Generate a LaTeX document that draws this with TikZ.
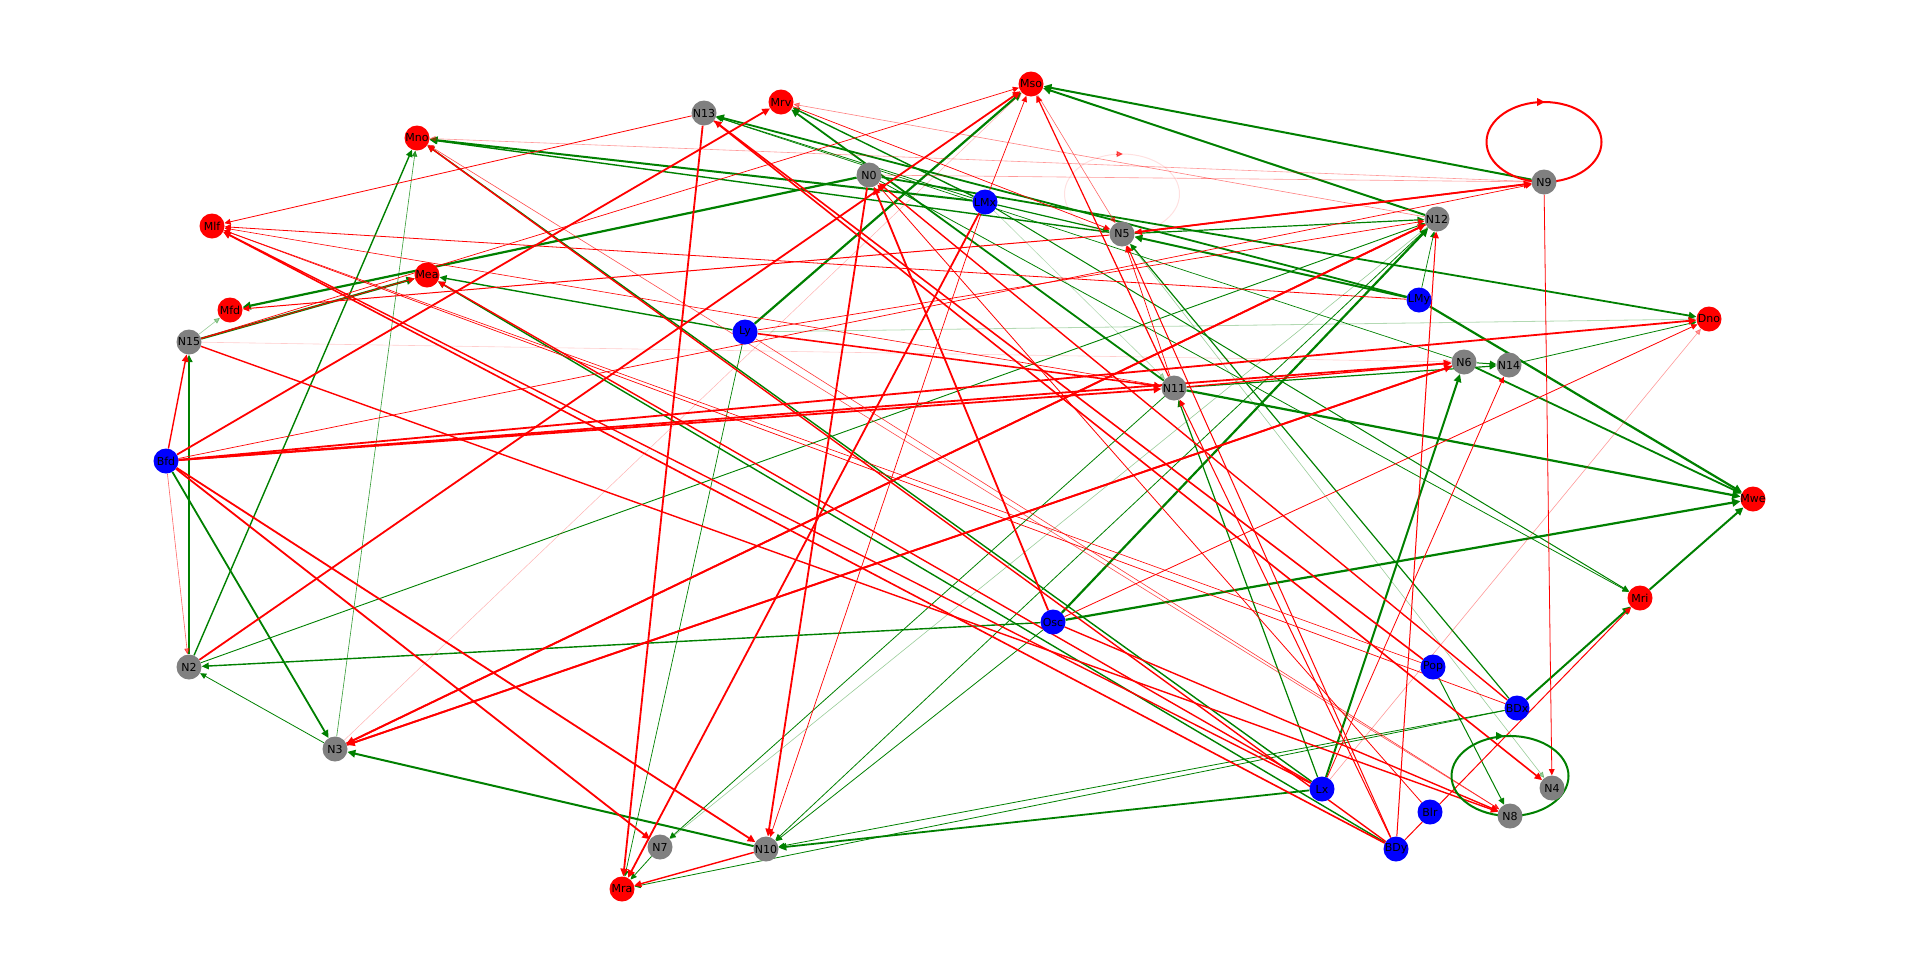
\documentclass[tikz,border=0pt]{standalone}
\usepackage{fontspec}
\setmainfont{DejaVu Sans}
\usetikzlibrary{arrows.meta,backgrounds}
\definecolor{exc}{HTML}{008000}
\definecolor{inh}{HTML}{FF0000}
\definecolor{hidn}{HTML}{808080}
\definecolor{sens}{HTML}{0000FF}
\newcommand{\lbl}[1]{\makebox[0pt]{#1}}

\begin{document}
\begin{tikzpicture}[x=1pt,y=-1pt,font=\fontsize{11}{13}\selectfont,
  unit/.style={circle,inner sep=0pt,minimum size=25pt},
  inp/.style={unit,fill=sens},
  hid/.style={unit,fill=hidn},
  outp/.style={unit,fill=inh},
  link/.style={-{Triangle[length=5pt 1.5,width=4.5pt 1.5]}}]
  \useasboundingbox (0,0) rectangle (1920,975);

  % Sensor units (blue).
  \foreach \n/\x/\y in {LMx/985/202, LMy/1419/300, Ly/745/332, Bfd/166/461,
    Osc/1053/622, Pop/1433/667, BDx/1517/708, Lx/1322/789, Blr/1430/812, BDy/1396/849}
    \node[inp] (\n) at (\x,\y) {\lbl{\n}};
  % Hidden units (grey).
  \foreach \n/\x/\y in {N0/869/175, N2/189/667, N3/335/749, N4/1552/788, N5/1122/234,
    N6/1464/362, N7/660/847, N8/1510/816, N9/1544/182, N10/766/849, N11/1174/388,
    N12/1437/219, N13/704/113, N14/1509/365, N15/189/342}
    \node[hid] (\n) at (\x,\y) {\lbl{\n}};
  % Motor units (red).
  \foreach \n/\x/\y in {Mso/1031/84, Mrv/781/102, Mno/417/138, Mlf/212/226, Mea/427/275,
    Mfd/230/310, Dno/1709/319, Mwe/1753/499, Mri/1640/598, Mra/622/889}
    \node[outp] (\n) at (\x,\y) {\lbl{\n}};

  \begin{scope}[on background layer]
    % Excitatory links: source/target/width/opacity.
    \foreach \s/\t/\w/\o in {
      N9/Mso/2/1, N12/Mso/2/1, Ly/Mso/2.2/1, N2/N15/1.6/1, Bfd/N3/1.8/1,
      N2/Mno/1.4/1, N3/Mno/0.6/0.8, N2/N12/0.9/1, Osc/N2/1.4/1, N3/N2/0.8/1,
      N10/N3/2/1, N7/Mra/0.8/1, N11/N7/0.8/1, Lx/N10/1.8/1, BDx/N10/0.8/1,
      BDx/Mra/0.8/1, N12/N10/0.8/1, Ly/Mra/0.7/1, LMx/Mno/2/1, N5/Mno/1.4/1,
      N0/Mfd/2.2/1, Lx/Mno/1.4/1, N15/Mea/2.2/1, N15/Mfd/0.6/0.4, Ly/Mea/1.4/1,
      BDy/Mea/1.4/1, LMy/N13/1.8/1, N11/Mrv/1.8/1, LMx/Mrv/1.4/1, N0/Dno/1.8/1,
      N11/Mwe/2.2/1, Osc/Mwe/2.2/1, LMy/Mwe/2.2/1, N6/Mwe/1.8/1, Mri/Mwe/2/1,
      BDx/Mri/2/1, Osc/N12/2.2/1, Lx/N6/2/1, Lx/N11/1.2/1, N11/N14/1.2/1,
      N6/N14/1/1, LMy/N5/2/1, LMx/N5/1.2/1, N5/N12/1.2/1, BDx/N5/1.2/1,
      LMx/Mri/1/1, N0/Mri/0.8/1, Pop/N8/1/1, N5/N4/0.6/0.4, LMy/N12/0.7/1,
      Osc/N10/0.8/1, N12/N7/0.6/0.4, Ly/Dno/0.8/0.3, N14/Dno/0.8/1,
      N6/N13/0.7/1, LMx/N13/0.8/1, LMx/N11/0.6/0.3}
      \draw[link,exc,line width=\w pt,opacity=\o] (\s) -- (\t);
    % Inhibitory links.
    \foreach \s/\t/\w/\o in {
      Bfd/N15/1.4/1, Bfd/N2/0.6/0.6, Bfd/Mrv/1.8/1, Bfd/N11/1.8/1, Bfd/N6/1.8/1,
      Bfd/Dno/1.8/1, Bfd/N9/0.7/1, Bfd/N7/1.8/1, Bfd/N10/1.8/1, N2/Mso/1.8/1,
      N15/N8/1.4/1, N15/Mea/0.8/1, N15/Mso/0.7/1, N15/N6/0.6/0.2, N3/N6/1.8/1,
      N6/N3/1.8/1, N12/N3/1.8/1, N3/N12/1.8/1, N3/Mso/0.5/0.3, N0/N10/1.8/1,
      LMx/N10/0.7/1, LMx/Mso/0.7/1, N10/Mra/1.4/1, N13/Mra/1.8/1, LMx/Mra/1.8/1,
      N13/Mlf/0.8/1, BDy/Mno/1.4/1, N8/Mno/0.6/0.7, N9/Mno/0.6/0.4, LMy/Mlf/0.8/1,
      BDy/Mlf/1.6/1, Lx/Mlf/1.4/1, N11/Mlf/0.6/1, Lx/Mea/1.4/1, N5/Mfd/1/1,
      N5/N9/1.8/1, N9/N5/1.4/1, N9/N4/0.8/1, N11/Mso/1.2/1, Mrv/N5/0.7/1,
      N13/N4/1.6/1, Pop/N13/1.6/1, N11/N6/1.2/1, Ly/N12/0.7/1, Ly/N11/1.6/1,
      Osc/N0/1.8/1, BDx/N0/1.4/1, Osc/N8/1.4/1, Osc/Dno/0.8/1, Lx/N14/0.8/1,
      BDy/N12/1/1, BDy/Mri/1/1, Blr/N0/0.8/1, BDy/N5/1/1, BDy/N11/1/1,
      BDx/Mlf/0.7/1, Mso/N5/0.6/0.6, N11/N5/0.7/1, N0/N9/0.6/0.4,
      N12/Mrv/0.6/0.5, Pop/Mlf/0.6/1, Lx/Dno/0.6/0.4, Ly/N8/0.6/0.8}
      \draw[link,inh,line width=\w pt,opacity=\o] (\s) -- (\t);

    % Self links.
    \draw[inh,line width=2pt] ([yshift=40pt]N9.center) ellipse [x radius=57.5pt, y radius=40pt];
    \draw[link,inh,line width=2pt] ([xshift=-6pt,yshift=80pt]N9.center) -- ([xshift=1pt,yshift=80pt]N9.center);
    \draw[exc,line width=2pt] ([yshift=40pt]N8.center) ellipse [x radius=58.5pt, y radius=40pt];
    \draw[link,exc,line width=2pt] ([xshift=-13pt,yshift=80pt]N8.center) -- ([xshift=-6pt,yshift=80pt]N8.center);
    \draw[inh,line width=1pt,opacity=0.12] ([yshift=40pt]N5.center) ellipse [x radius=57.5pt, y radius=40pt];
    \draw[link,inh,line width=1pt,opacity=0.6] ([xshift=-6pt,yshift=80pt]N5.center) -- ([xshift=1pt,yshift=80pt]N5.center);
  \end{scope}
\end{tikzpicture}
\end{document}
